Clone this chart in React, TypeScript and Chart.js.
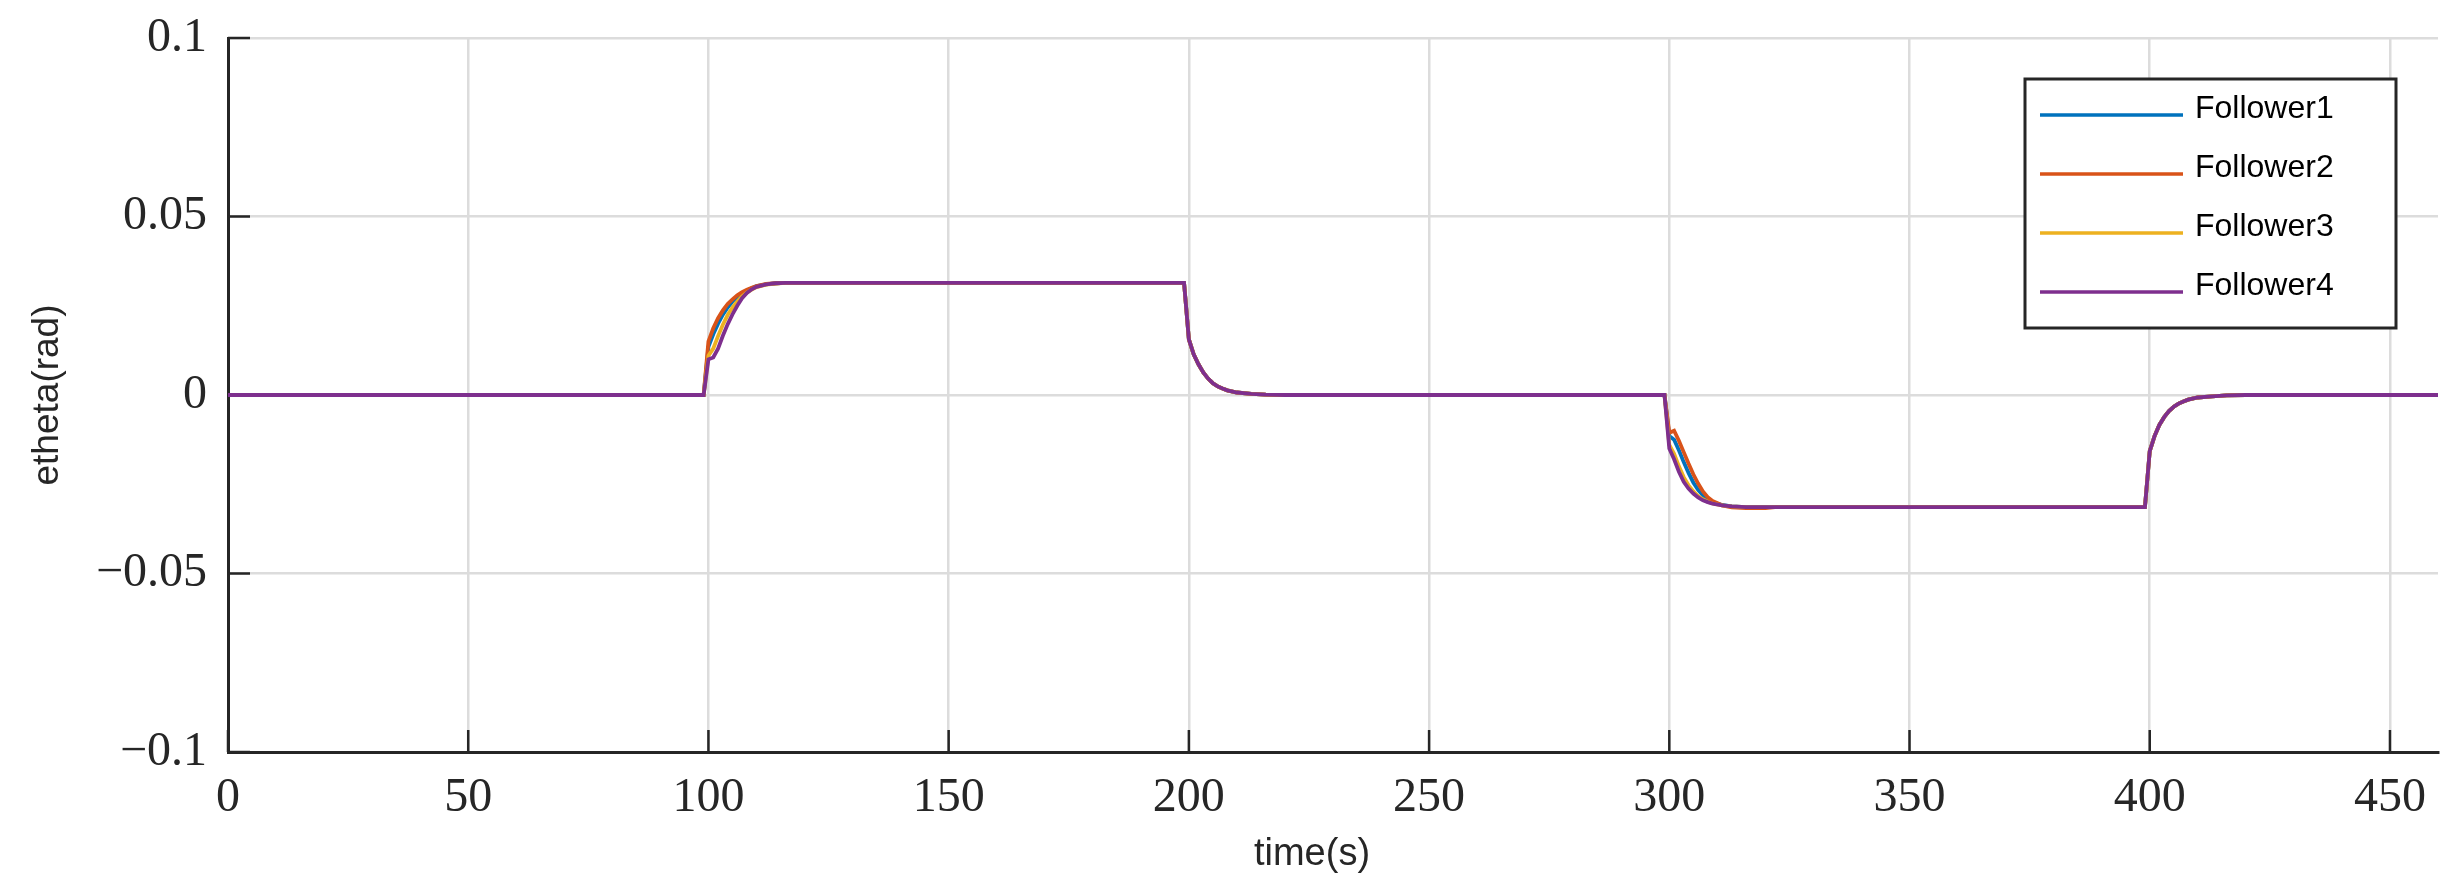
import React, { useEffect, useRef } from 'react';
import { Chart, registerables } from 'chart.js';

Chart.register(...registerables);

// time samples (s)
const times = [
  0, 99, 100, 101, 102, 103, 104, 105, 106, 107, 108, 109, 110, 112, 114, 116, 120,
  199, 200, 201, 202, 203, 204, 205, 206, 207, 208, 210, 213, 216, 220,
  299, 300, 301, 302, 303, 304, 305, 306, 307, 308, 309, 311, 313, 316, 320, 322,
  399, 400, 401, 402, 403, 404, 405, 406, 407, 408, 410, 413, 416, 420, 460,
];

const follower1 = [
  0, 0, 0.0135, 0.017, 0.02, 0.0225, 0.0245, 0.0262, 0.0275, 0.0285, 0.0293, 0.0299, 0.0305, 0.031, 0.0313, 0.0314, 0.0314,
  0.0314, 0.0156, 0.0114, 0.0086, 0.0063, 0.0046, 0.0033, 0.0024, 0.0018, 0.0013, 0.0007, 0.0003, 0.0001, 0,
  0, -0.0115, -0.0125, -0.0155, -0.0188, -0.0218, -0.0245, -0.0266, -0.0281, -0.0292, -0.03, -0.0308, -0.0312, -0.0314, -0.0314, -0.0314,
  -0.0314, -0.0157, -0.0115, -0.0084, -0.0062, -0.0045, -0.0033, -0.0024, -0.0018, -0.0013, -0.0007, -0.0004, -0.0001, 0, 0,
];

const follower2 = [
  0, 0, 0.015, 0.0187, 0.0215, 0.0237, 0.0255, 0.0268, 0.0279, 0.0288, 0.0295, 0.03, 0.0305, 0.0311, 0.0313, 0.0314, 0.0314,
  0.0314, 0.0156, 0.0114, 0.0086, 0.0063, 0.0046, 0.0033, 0.0024, 0.0018, 0.0013, 0.0007, 0.0003, 0.0001, 0,
  0, -0.0106, -0.01, -0.0128, -0.016, -0.0192, -0.0222, -0.0248, -0.027, -0.0286, -0.0297, -0.0309, -0.0315, -0.0317, -0.0317, -0.0314,
  -0.0314, -0.0157, -0.0115, -0.0084, -0.0062, -0.0045, -0.0033, -0.0024, -0.0018, -0.0013, -0.0007, -0.0004, -0.0001, 0, 0,
];

const follower3 = [
  0, 0, 0.011, 0.013, 0.0165, 0.0197, 0.0224, 0.0245, 0.0262, 0.0276, 0.0287, 0.0295, 0.0302, 0.0309, 0.0312, 0.0314, 0.0314,
  0.0314, 0.0156, 0.0114, 0.0086, 0.0063, 0.0046, 0.0033, 0.0024, 0.0018, 0.0013, 0.0007, 0.0003, 0.0001, 0,
  0, -0.014, -0.0165, -0.02, -0.023, -0.0253, -0.027, -0.0283, -0.0292, -0.0299, -0.0304, -0.0309, -0.0312, -0.0314, -0.0314, -0.0314,
  -0.0314, -0.0157, -0.0115, -0.0084, -0.0062, -0.0045, -0.0033, -0.0024, -0.0018, -0.0013, -0.0007, -0.0004, -0.0001, 0, 0,
];

const follower4 = [
  0, 0, 0.01, 0.0105, 0.013, 0.0166, 0.0198, 0.0226, 0.025, 0.0271, 0.0286, 0.0296, 0.0303, 0.031, 0.0313, 0.0314, 0.0314,
  0.0314, 0.0156, 0.0114, 0.0086, 0.0063, 0.0046, 0.0033, 0.0024, 0.0018, 0.0013, 0.0007, 0.0003, 0.0001, 0,
  0, -0.015, -0.018, -0.0215, -0.0243, -0.0262, -0.0276, -0.0287, -0.0295, -0.03, -0.0304, -0.0309, -0.0312, -0.0314, -0.0314, -0.0314,
  -0.0314, -0.0157, -0.0115, -0.0084, -0.0062, -0.0045, -0.0033, -0.0024, -0.0018, -0.0013, -0.0007, -0.0004, -0.0001, 0, 0,
];

const seriesNames = ['Follower1', 'Follower2', 'Follower3', 'Follower4'];
const seriesColors = ['#0072BD', '#D95319', '#EDB120', '#7E2F8E'];
const seriesValues = [follower1, follower2, follower3, follower4];

const xTickValues = [0, 50, 100, 150, 200, 250, 300, 350, 400, 450];
const xTickLabels = ['0', '50', '100', '150', '200', '250', '300', '350', '400', '450'];
const yTickValues = [-0.1, -0.05, 0, 0.05, 0.1];
const yTickLabels = ['\u22120.1', '\u22120.05', '0', '0.05', '0.1'];

const xTitle = 'time(s)';
const yTitle = 'etheta(rad)';

const AXIS_COLOR = '#262626';
const GRID_COLOR = '#dcdcdc';
const SERIF = '"Liberation Serif", "DejaVu Serif", serif';
const SANS = '"Liberation Sans", Arial, sans-serif';

function labelFor(values: number[], labels: string[], v: number) {
  const i = values.findIndex((t) => Math.abs(t - v) < 1e-9);
  return i >= 0 ? labels[i] : '';
}

const innerTicks = {
  id: 'innerTicks',
  beforeDatasetsDraw(chart: any) {
    const { ctx, chartArea, scales } = chart;
    const len = 22;
    ctx.save();
    ctx.strokeStyle = AXIS_COLOR;
    ctx.lineWidth = 2.5;
    scales.x.ticks.forEach((t: any) => {
      const px = scales.x.getPixelForValue(t.value);
      ctx.beginPath();
      ctx.moveTo(px, chartArea.bottom);
      ctx.lineTo(px, chartArea.bottom - len);
      ctx.stroke();
    });
    scales.y.ticks.forEach((t: any) => {
      const py = scales.y.getPixelForValue(t.value);
      ctx.beginPath();
      ctx.moveTo(chartArea.left, py);
      ctx.lineTo(chartArea.left + len, py);
      ctx.stroke();
    });
    ctx.restore();
  },
};

const xAxisTitle = {
  id: 'xAxisTitle',
  afterDraw(chart: any) {
    const { ctx, chartArea } = chart;
    ctx.save();
    ctx.fillStyle = AXIS_COLOR;
    ctx.font = `38px ${SANS}`;
    ctx.textAlign = 'center';
    ctx.textBaseline = 'middle';
    ctx.fillText(xTitle, (chartArea.left + chartArea.right) / 2 - 21, chartArea.bottom + 103);
    ctx.restore();
  },
};

const legendBox = {
  id: 'legendBox',
  afterDraw(chart: any) {
    const { ctx, chartArea } = chart;
    const w = 371;
    const h = 249;
    const right = chartArea.right - 42;
    const top = chartArea.top + 41;
    const left = right - w;
    ctx.save();
    ctx.fillStyle = '#ffffff';
    ctx.fillRect(left, top, w, h);
    ctx.strokeStyle = AXIS_COLOR;
    ctx.lineWidth = 3;
    ctx.strokeRect(left, top, w, h);
    chart.data.datasets.forEach((ds: any, i: number) => {
      const y = top + 36 + i * 59;
      ctx.strokeStyle = ds.borderColor;
      ctx.lineWidth = 3.5;
      ctx.beginPath();
      ctx.moveTo(left + 15, y);
      ctx.lineTo(left + 158, y);
      ctx.stroke();
      ctx.fillStyle = '#000000';
      ctx.font = `32px ${SANS}`;
      ctx.textAlign = 'left';
      ctx.textBaseline = 'alphabetic';
      ctx.fillText(ds.label, left + 170, y + 3);
    });
    ctx.restore();
  },
};

export default function App() {
  const ref = useRef<HTMLCanvasElement>(null);

  useEffect(() => {
    const canvas = ref.current;
    if (!canvas) return;
    const chart = new Chart(canvas, {
      type: 'line',
      data: {
        datasets: seriesNames.map((name, i) => ({
          label: name,
          data: times.map((t, k) => ({ x: t, y: seriesValues[i][k] })),
          borderColor: seriesColors[i],
          backgroundColor: seriesColors[i],
          borderWidth: 3.8,
          pointRadius: 0,
          fill: false,
          tension: 0,
          order: seriesNames.length - 1 - i,
        })),
      },
      options: {
        responsive: false,
        devicePixelRatio: 1,
        animation: false,
        events: [],
        layout: { padding: { left: 0, right: 17, top: 38, bottom: 0 } },
        plugins: {
          legend: { display: false },
          tooltip: { enabled: false },
        },
        scales: {
          x: {
            type: 'linear',
            min: 0,
            max: 460,
            afterBuildTicks: (scale: any) => {
              scale.ticks = xTickValues.map((v) => ({ value: v }));
            },
            afterFit: (scale: any) => {
              scale.height = 133;
              scale.paddingLeft = 0;
              scale.paddingRight = 0;
            },
            grid: { color: GRID_COLOR, lineWidth: 2.5, drawTicks: false },
            border: { display: true, color: AXIS_COLOR, width: 3 },
            ticks: {
              autoSkip: false,
              maxRotation: 0,
              padding: 18,
              color: AXIS_COLOR,
              font: { family: SERIF, size: 48 },
              callback: (v: any) => labelFor(xTickValues, xTickLabels, Number(v)),
            },
            title: { display: false },
          },
          y: {
            type: 'linear',
            min: -0.1,
            max: 0.1,
            afterBuildTicks: (scale: any) => {
              scale.ticks = yTickValues.map((v) => ({ value: v }));
            },
            afterFit: (scale: any) => {
              scale.width = 228;
              scale.paddingTop = 0;
              scale.paddingBottom = 0;
            },
            grid: { color: GRID_COLOR, lineWidth: 2.5, drawTicks: false },
            border: { display: true, color: AXIS_COLOR, width: 3 },
            ticks: {
              autoSkip: false,
              padding: 21,
              color: AXIS_COLOR,
              font: { family: SERIF, size: 48 },
              callback: (v: any) => labelFor(yTickValues, yTickLabels, Number(v)),
            },
            title: {
              display: true,
              text: yTitle,
              color: AXIS_COLOR,
              font: { family: SANS, size: 37 },
              padding: { top: 26, bottom: 0 },
            },
          },
        },
      },
      plugins: [innerTicks, xAxisTitle, legendBox],
    } as any);
    return () => chart.destroy();
  }, []);

  return (
    <div style={{ position: 'fixed', left: 0, top: 0, width: 2455, height: 885, background: '#ffffff' }}>
      <canvas ref={ref} width={2455} height={885} style={{ display: 'block', width: 2455, height: 885 }} />
    </div>
  );
}
